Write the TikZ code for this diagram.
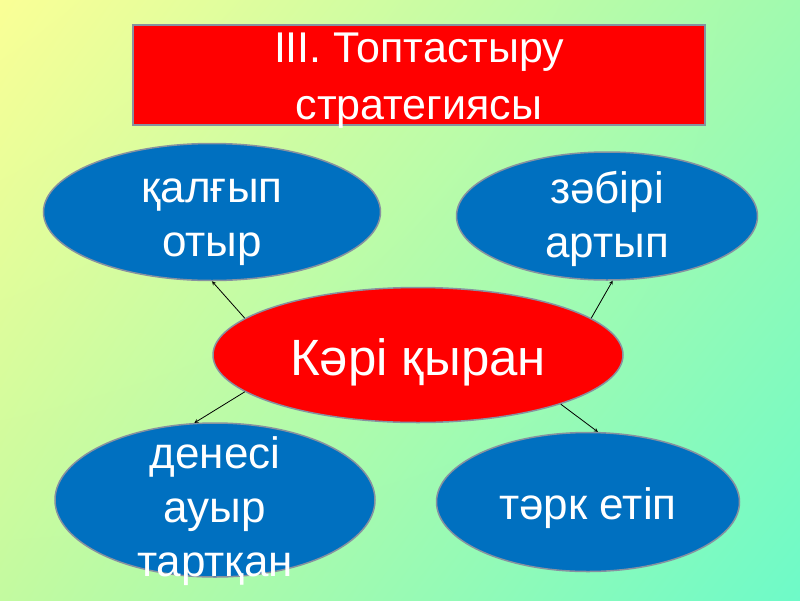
\documentclass[tikz,border=0pt]{standalone}
\usepackage{fontspec}
\setmainfont{Liberation Sans}
\usetikzlibrary{positioning, shapes.geometric, shadings}
\definecolor{slideRed}{RGB}{255,0,0}
\definecolor{slideBlue}{RGB}{0,112,192}
\definecolor{rimGray}{RGB}{135,145,160}
\definecolor{bgTL}{RGB}{250,255,150}
\definecolor{bgTR}{RGB}{160,250,175}
\definecolor{bgBL}{RGB}{195,250,160}
\definecolor{bgBR}{RGB}{110,250,200}
\tikzset{
  >=stealth, % small closed arrow heads
  blob/.style={ellipse, draw=rimGray, line width=1.5pt, fill=slideBlue,
    inner sep=0pt}, % the four outer ovals
  hub/.style={blob, fill=slideRed}, % the central oval
  banner/.style={rectangle, draw=rimGray, line width=1.5pt, fill=slideRed,
    inner sep=0pt}, % the title box
  lbl/.style={text=white, align=center, inner sep=0pt,
    font=\fontsize{44}{54}\selectfont}, % white text put in the middle
  link/.style={->, line width=0.8pt}, % thin black arrows
}

\begin{document}
\begin{tikzpicture}[x=1pt,y=-1pt]

    \shade[upper left=bgTL, upper right=bgTR, lower left=bgBL,
      lower right=bgBR] (0,0) rectangle (800,600);

    \node[banner, minimum width=572pt, minimum height=100pt,
      label={[lbl, font=\fontsize{43}{57}\selectfont, yshift=-5.6pt]center:{III. Топтастыру\\стратегиясы}}]
      (title) at (419,75) {};

    \node[hub, minimum width=410pt, minimum height=135pt,
      label={[lbl, font=\fontsize{51}{60}\selectfont, yshift=-7pt]center:{Кәрі қыран}}]
      (kari) at (418,355) {};
    \node[blob, minimum width=337pt, minimum height=137pt,
      label={[lbl, yshift=-10.7pt]center:{қалғып\\отыр}}]
      (qalgyp) at (212,212) {};
    \node[blob, minimum width=301pt, minimum height=128pt,
      label={[lbl, yshift=-3pt]center:{зәбірі\\артып}}]
      (zabiri) at (607,216) {};
    \node[blob, minimum width=320pt, minimum height=154pt,
      label={[lbl, yshift=-11pt]center:{денесі\\ауыр\\тартқан}}]
      (denesi) at (215,500) {};
    \node[blob, minimum width=303pt, minimum height=139pt,
      label={[lbl, yshift=-6pt]center:{тәрк етіп}}]
      (tark) at (588,502) {};

    \draw[link] (kari.168.7) -- (qalgyp.-90);
    \draw[link] (kari.12) -- (zabiri.-85.5);
    \draw[link] (kari.-168.7) -- (denesi.105);
    \draw[link] (kari.-19.3) -- (tark.82);

  \end{tikzpicture}
\end{document}
